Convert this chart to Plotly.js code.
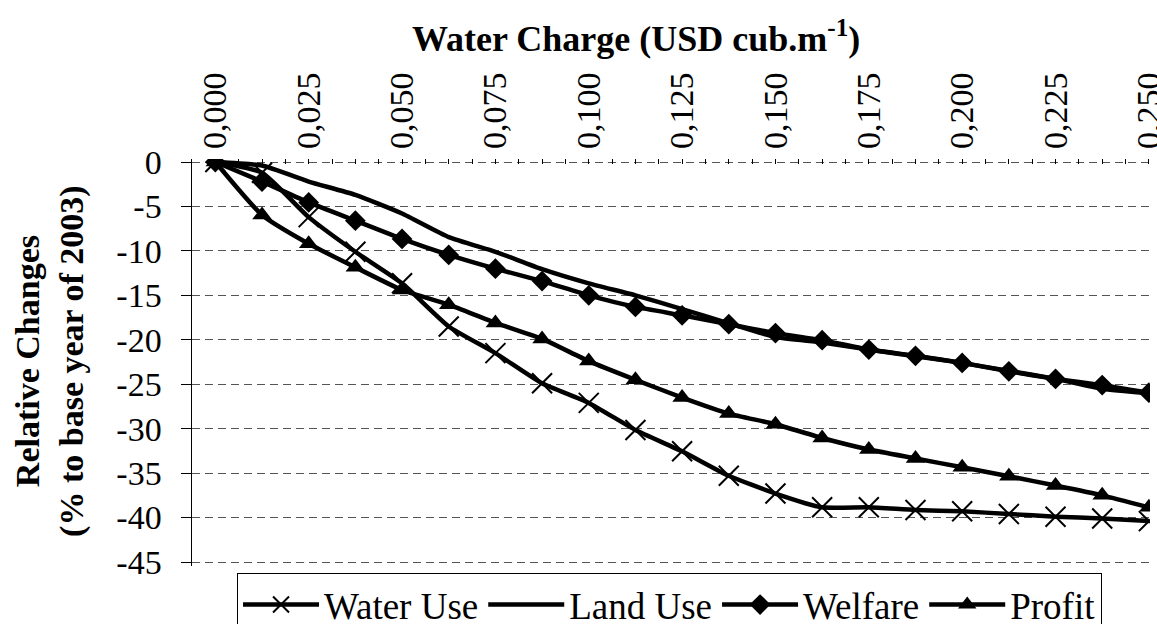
<!DOCTYPE html>
<html>
<head>
<meta charset="utf-8">
<script src="https://cdn.plot.ly/plotly-3.0.1.min.js"></script>
<style>
html,body{margin:0;padding:0;background:#fff;}
#chart{width:1157px;height:624px;}
</style>
</head>
<body>
<div id="chart"></div>
<script>
const waterCharge = [0, 0.0125, 0.025, 0.0375, 0.05, 0.0625, 0.075, 0.0875, 0.1, 0.1125, 0.125, 0.1375, 0.15, 0.1625, 0.175, 0.1875, 0.2, 0.2125, 0.225, 0.2375, 0.25];
const waterUse = [0, -1.2, -6.2, -10.1, -13.65, -18.5, -21.5, -24.9, -27.1, -30.15, -32.55, -35.3, -37.3, -38.85, -38.85, -39.15, -39.3, -39.6, -39.9, -40.1, -40.4];
const landUse = [0, -0.4, -2.2, -3.7, -5.8, -8.45, -10.1, -12.05, -13.65, -15.0, -16.55, -18.15, -19.7, -20.3, -21.1, -21.85, -22.6, -23.5, -24.4, -25.5, -26.0];
const welfare = [0, -2.2, -4.55, -6.6, -8.65, -10.45, -12.0, -13.4, -15.0, -16.3, -17.25, -18.25, -19.25, -20.05, -21.1, -21.8, -22.6, -23.55, -24.4, -25.1, -25.95];
const profit = [0, -5.96, -9.2, -11.85, -14.4, -16.05, -18.1, -19.9, -22.4, -24.5, -26.5, -28.3, -29.5, -31.05, -32.35, -33.35, -34.35, -35.35, -36.4, -37.5, -38.85];

const xTickVals = [0, 0.025, 0.05, 0.075, 0.1, 0.125, 0.15, 0.175, 0.2, 0.225, 0.25];
const xTickText = ["0,000", "0,025", "0,050", "0,075", "0,100", "0,125", "0,150", "0,175", "0,200", "0,225", "0,250"];
const yTickVals = [0, -5, -10, -15, -20, -25, -30, -35, -40, -45];
const yTickText = ["0", "-5", "-10", "-15", "-20", "-25", "-30", "-35", "-40", "-45"];

const FONT = "'Liberation Serif', 'Times New Roman', Times, serif";
const lineStyle = {color: "#000", width: 4.5, shape: "spline", smoothing: 0.5};

const traces = [
  {x: waterCharge, y: waterUse, name: "Water Use", type: "scatter", mode: "lines+markers",
   line: lineStyle, marker: {symbol: "x-thin-open", size: 20, color: "#000", line: {color: "#000", width: 2}}},
  {x: waterCharge, y: landUse, name: "Land Use", type: "scatter", mode: "lines",
   line: lineStyle},
  {x: waterCharge, y: welfare, name: "Welfare", type: "scatter", mode: "lines+markers",
   line: lineStyle, marker: {symbol: "diamond", size: 16, color: "#000"}},
  {x: waterCharge, y: profit, name: "Profit", type: "scatter", mode: "lines+markers",
   line: lineStyle, marker: {symbol: "triangle-up", size: 17, color: "#000"}}
];

const layout = {
  width: 1157, height: 624,
  margin: {l: 192, r: 7, t: 159, b: 58, pad: 0},
  paper_bgcolor: "#fff", plot_bgcolor: "#fff",
  font: {family: FONT, size: 34, color: "#000"},
  showlegend: true,
  xaxis: {
    side: "top", range: [-0.00625, 0.2503],
    tickmode: "array", tickvals: xTickVals, ticktext: xTickText,
    tickangle: -90, ticks: "inside", ticklen: 5, tickcolor: "#000", tickwidth: 1,
    minor: {dtick: 0.00625, tick0: 0, ticks: "inside", ticklen: 5, tickcolor: "#000", tickwidth: 1, showgrid: false},
    showgrid: false, zeroline: false, showline: false, automargin: false,
    ticklabeloverflow: "allow", ticklabelstandoff: 9,
    tickfont: {family: FONT, size: 34, color: "#000"},
    fixedrange: true
  },
  yaxis: {
    range: [-45.45, 0.3375],
    tickmode: "array", tickvals: yTickVals, ticktext: yTickText,
    ticks: "outside", ticklen: 10, tickcolor: "#000", tickwidth: 1,
    ticklabelstandoff: 12,
    showline: true, linecolor: "#000", linewidth: 1.5,
    showgrid: true, gridcolor: "#555", gridwidth: 1, griddash: "8px,5px",
    zeroline: false, automargin: false,
    tickfont: {family: FONT, size: 34, color: "#000"},
    fixedrange: true
  },
  legend: {
    orientation: "h", xref: "paper", x: 0.047, xanchor: "left",
    yref: "container", y: 0.0817, yanchor: "top",
    bordercolor: "#000", borderwidth: 1, bgcolor: "#fff",
    font: {family: FONT, size: 37, color: "#000"},
    itemwidth: 76, traceorder: "normal"
  },
  annotations: [{
    text: "<b>Water Charge (USD cub.m<sup>-1</sup>)</b>",
    xref: "paper", yref: "paper", x: 0.4635, y: 1.2998, xanchor: "center", yanchor: "middle",
    showarrow: false, font: {family: FONT, size: 36, color: "#000"}
  }, {
    text: "<b>Relative Changes<br>(% to base year of 2003)</b>",
    xref: "paper", yref: "paper", x: -0.1482, y: 0.504, xanchor: "center", yanchor: "middle",
    textangle: -90, showarrow: false, font: {family: FONT, size: 34, color: "#000"}
  }]
};

const config = {displayModeBar: false, staticPlot: true};
function draw() { return Plotly.newPlot("chart", traces, layout, config); }
draw();
if (document.fonts && document.fonts.load) {
  Promise.all([
    document.fonts.load("34px 'Liberation Serif'"),
    document.fonts.load("bold 34px 'Liberation Serif'")
  ]).then(function () { return document.fonts.ready; }).then(draw, draw);
}
</script>
</body>
</html>
